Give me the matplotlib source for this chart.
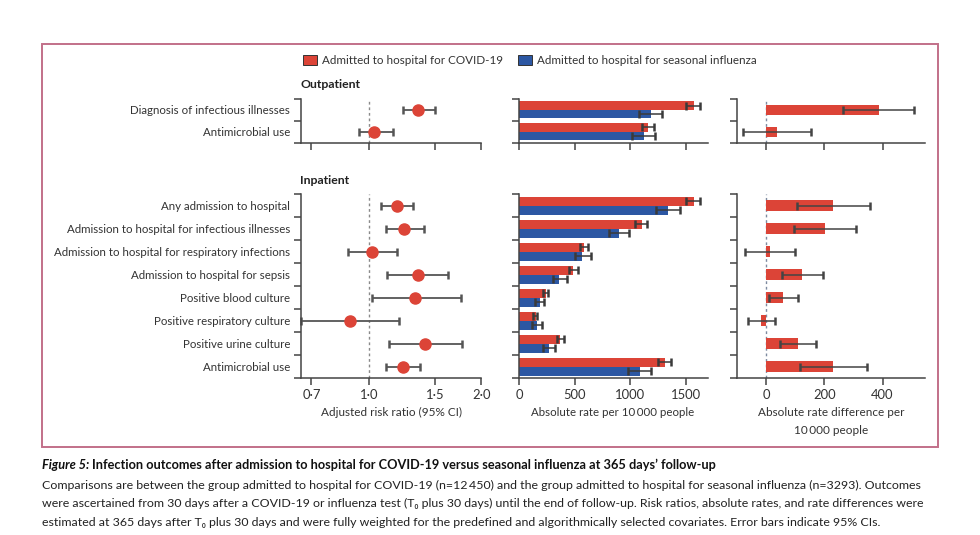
import numpy as np
import matplotlib.pyplot as plt
from matplotlib.patches import Rectangle
from matplotlib.ticker import FixedLocator, FixedFormatter, NullFormatter

plt.rcParams['font.family'] = ['Lato', 'DejaVu Sans']

W, H = 980, 535
RED = '#dc4437'
BLUE = '#2c57a3'
TXT = '#333333'

out_labels = ["Diagnosis of infectious illnesses", "Antimicrobial use"]
in_labels = ["Any admission to hospital",
             "Admission to hospital for infectious illnesses",
             "Admission to hospital for respiratory infections",
             "Admission to hospital for sepsis",
             "Positive blood culture",
             "Positive respiratory culture",
             "Positive urine culture",
             "Antimicrobial use"]

# adjusted risk ratio (95% CI)
out_rr = [1.35, 1.03]
out_rr_lo = [1.23, 0.94]
out_rr_hi = [1.50, 1.16]
in_rr = [1.19, 1.24, 1.02, 1.35, 1.33, 0.89, 1.41, 1.23]
in_rr_lo = [1.075, 1.11, 0.88, 1.12, 1.015, 0.655, 1.13, 1.11]
in_rr_hi = [1.31, 1.40, 1.19, 1.63, 1.76, 1.20, 1.77, 1.37]

# absolute rate per 10 000 people
out_cov = [1576, 1161]
out_cov_lo = [1508, 1105]
out_cov_hi = [1632, 1213]
out_flu = [1188, 1125]
out_flu_lo = [1079, 1016]
out_flu_hi = [1290, 1220]
in_cov = [1576, 1106, 580, 487, 237, 150, 367, 1311]
in_cov_lo = [1508, 1046, 547, 451, 216, 126, 343, 1253]
in_cov_hi = [1628, 1154, 622, 526, 262, 162, 403, 1368]
in_flu = [1341, 899, 568, 361, 186, 159, 268, 1088]
in_flu_lo = [1233, 806, 502, 307, 141, 117, 216, 983]
in_flu_hi = [1449, 989, 646, 430, 225, 204, 319, 1184]

# absolute rate difference per 10 000 people
out_diff = [386, 36]
out_diff_lo = [264, -81]
out_diff_hi = [508, 154]
in_diff = [228, 202, 11, 124, 57, -17, 108, 230]
in_diff_lo = [105, 94, -72, 54, 10, -62, 46, 115]
in_diff_hi = [356, 308, 97, 194, 108, 30, 172, 346]

rr_ticks = [0.7, 1.0, 1.5, 2.0]
rr_ticklabels = ['0\u00b77', '1\u00b70', '1\u00b75', '2\u00b70']
rate_ticks = [0, 500, 1000, 1500]
diff_ticks = [0, 200, 400]


def px_rect(x0, x1, y0, y1):
    return [x0 / W, 1 - y1 / H, (x1 - x0) / W, (y1 - y0) / H]


def fx(x):
    return x / W


def fy(y):
    return 1 - y / H


fig = plt.figure(figsize=(W / 100, H / 100), dpi=100)

cols = [(300.7, 481.3), (519.3, 707.7), (736.7, 925.3)]
rows = {'out': (99, 142.5), 'in': (194, 378.3)}


def style_axes(ax, n, labels, ticks, ticklabels):
    for s in ['top', 'right']:
        ax.spines[s].set_visible(False)
    for s in ['left', 'bottom']:
        ax.spines[s].set_color('#444444')
        ax.spines[s].set_linewidth(1.1)
    ax.set_ylim(n - 0.5, -0.5)
    ax.yaxis.set_major_locator(FixedLocator(np.arange(n + 1) - 0.5))
    ax.yaxis.set_major_formatter(NullFormatter())
    ax.yaxis.set_minor_locator(FixedLocator(np.arange(n)))
    if labels is not None:
        ax.yaxis.set_minor_formatter(FixedFormatter(labels))
    else:
        ax.yaxis.set_minor_formatter(NullFormatter())
    ax.tick_params(axis='y', which='major', length=5, width=1.1, color='#444444')
    ax.tick_params(axis='y', which='minor', length=0, pad=7.5, labelsize=8.3, labelcolor=TXT)
    ax.xaxis.set_major_locator(FixedLocator(ticks))
    if ticklabels is None:
        ax.xaxis.set_major_formatter(NullFormatter())
    else:
        ax.xaxis.set_major_formatter(FixedFormatter(ticklabels))
    ax.xaxis.set_minor_locator(FixedLocator([]))
    ax.tick_params(axis='x', which='major', length=5, width=1.1, color='#444444',
                   labelsize=9.4, labelcolor=TXT, pad=3)


for key, n, labels, rr, rlo, rhi, cov, clo, chi, flu, flo, fhi, d, dlo, dhi in [
        ('out', 2, out_labels, out_rr, out_rr_lo, out_rr_hi, out_cov, out_cov_lo, out_cov_hi,
         out_flu, out_flu_lo, out_flu_hi, out_diff, out_diff_lo, out_diff_hi),
        ('in', 8, in_labels, in_rr, in_rr_lo, in_rr_hi, in_cov, in_cov_lo, in_cov_hi,
         in_flu, in_flu_lo, in_flu_hi, in_diff, in_diff_lo, in_diff_hi)]:
    y0, y1 = rows[key]
    yy = np.arange(n)
    show = key == 'in'

    # risk ratio panel
    ax = fig.add_axes(px_rect(cols[0][0], cols[0][1], y0, y1))
    ax.set_xscale('log')
    ax.set_xlim(0.655, 2.0)
    style_axes(ax, n, labels, rr_ticks, rr_ticklabels if show else None)
    ax.axvline(1.0, color='#8a8a8a', lw=1, ls=(0, (2, 2)), zorder=1)
    rr_a = np.array(rr)
    ax.errorbar(rr_a, yy, xerr=[rr_a - np.array(rlo), np.array(rhi) - rr_a], fmt='none',
                ecolor='#555555', elinewidth=1.3, capsize=3.2, capthick=1.8, zorder=2)
    ax.plot(rr, yy, 'o', color=RED, ms=8, mec=RED, zorder=3, clip_on=False)
    for c in ax.collections + ax.lines:
        c.set_clip_on(False)

    # absolute rate panel
    ax = fig.add_axes(px_rect(cols[1][0], cols[1][1], y0, y1))
    ax.set_xlim(0, 1700)
    style_axes(ax, n, None, rate_ticks, [str(t) for t in rate_ticks] if show else None)
    h = 0.39
    ax.barh(yy - h / 2, cov, height=h, color=RED, zorder=2)
    ax.barh(yy + h / 2, flu, height=h, color=BLUE, zorder=2)
    for vals, lo, hi, off in [(cov, clo, chi, -h / 2), (flu, flo, fhi, h / 2)]:
        v = np.array(vals)
        ax.errorbar(v, yy + off, xerr=[v - np.array(lo), np.array(hi) - v], fmt='none',
                    ecolor='#3a3a3a', elinewidth=1.1, capsize=2.6, capthick=1.8, zorder=3)
    for c in ax.collections + ax.lines:
        c.set_clip_on(False)

    # rate difference panel
    ax = fig.add_axes(px_rect(cols[2][0], cols[2][1], y0, y1))
    ax.set_xlim(-102, 547)
    style_axes(ax, n, None, diff_ticks, [str(t) for t in diff_ticks] if show else None)
    ax.axvline(0, color='#7d8aa0', lw=1, ls=(0, (2, 2)), zorder=1)
    ax.barh(yy, d, height=0.46, color=RED, zorder=2)
    dv = np.array(d)
    ax.errorbar(dv, yy, xerr=[dv - np.array(dlo), np.array(dhi) - dv], fmt='none',
                ecolor='#444444', elinewidth=1.1, capsize=3, capthick=1.8, zorder=3)

# section headings
fig.text(fx(300), fy(84), 'Outpatient', fontsize=8.8, fontweight='bold', color='#222222',
         ha='left', va='center')
fig.text(fx(300), fy(180), 'Inpatient', fontsize=8.8, fontweight='bold', color='#222222',
         ha='left', va='center')

# axis titles
fig.text(fx(391), fy(412), 'Adjusted risk ratio (95% CI)', fontsize=8.5, color=TXT,
         ha='center', va='center')
fig.text(fx(613), fy(412), 'Absolute rate per 10\u2009000 people', fontsize=8.3, color=TXT,
         ha='center', va='center')
fig.text(fx(831), fy(412), 'Absolute rate difference per', fontsize=8.5, color=TXT,
         ha='center', va='center')
fig.text(fx(831), fy(430), '10\u2009000 people', fontsize=8.5, color=TXT,
         ha='center', va='center')

# legend
for x0, col, lab in [(303, RED, 'Admitted to hospital for COVID-19'),
                     (518, BLUE, 'Admitted to hospital for seasonal influenza')]:
    fig.patches.append(Rectangle((fx(x0), fy(65)), 14 / W, 10 / H, transform=fig.transFigure,
                                 facecolor=col, edgecolor='#333333', lw=0.7))
    fig.text(fx(x0 + 19), fy(60), lab, fontsize=8.4, color=TXT, ha='left', va='center')

# frame
fig.patches.append(Rectangle((fx(42), fy(447)), (938 - 42) / W, (447 - 44) / H,
                             transform=fig.transFigure, fill=False,
                             edgecolor='#c27089', lw=1.4))

# caption
renderer = fig.canvas.get_renderer()
body = ["Comparisons are between the group admitted to hospital for COVID-19 (n=12\u2009450) "
        "and the group admitted to hospital for seasonal influenza (n=3293). Outcomes",
        "were ascertained from 30 days after a COVID-19 or influenza test (T\u2080 plus 30 days) "
        "until the end of follow-up. Risk ratios, absolute rates, and rate differences were",
        "estimated at 365 days after T\u2080 plus 30 days and were fully weighted for the predefined "
        "and algorithmically selected covariates. Error bars indicate 95% CIs."]
t = fig.text(fx(42), fy(485), body[0], fontsize=9.5, color='#222222', ha='left', va='center')
w = t.get_window_extent(renderer).width
fs = 9.5 * 881 / w
t.set_fontsize(fs)
for i, line in enumerate(body[1:]):
    fig.text(fx(42), fy(503.5 + 18.5 * i), line, fontsize=fs, color='#222222',
             ha='left', va='center')

t1 = fig.text(fx(42), fy(465), 'Figure 5:', fontsize=9.5, fontweight='bold', style='italic',
              color='#111111', ha='left', va='center')
t2 = fig.text(fx(42), fy(465),
              'Infection outcomes after admission to hospital for COVID-19 versus seasonal '
              'influenza at 365 days\u2019 follow-up', fontsize=9.5, fontweight='bold',
              color='#111111', ha='left', va='center')
tw = t1.get_window_extent(renderer).width + 3 + t2.get_window_extent(renderer).width
fs2 = 9.5 * 674 / tw
t1.set_fontsize(fs2)
t2.set_fontsize(fs2)
w1 = t1.get_window_extent(renderer).width
t2.set_x(fx(42 + w1 + 3))

fig.savefig('out.png', dpi=100)
